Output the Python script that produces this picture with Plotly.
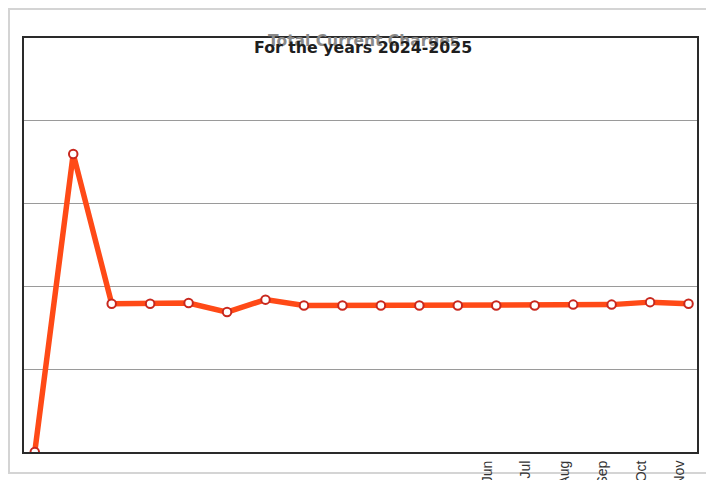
import plotly.graph_objects as go

months = ["Jun 2024", "Jul 2024", "Aug 2024", "Sep 2024", "Oct 2024", "Nov 2024",
          "Dec 2024", "Jan 2025", "Feb 2025", "Mar 2025", "Apr 2025", "May 2025",
          "Jun 2025", "Jul 2025", "Aug 2025", "Sep 2025", "Oct 2025", "Nov 2025"]
charges = [0.0, 3.60, 1.79, 1.79, 1.80, 1.69, 1.84, 1.77, 1.77, 1.77,
           1.77, 1.77, 1.77, 1.77, 1.78, 1.78, 1.81, 1.79]
# only the ends of the last six rotated labels survive in the picture
tick_labels = ["", "", "", "", "", "", "", "", "", "", "", "",
               "Jun", "Jul", "Aug", "Sep", "Oct", "Nov"]
title = "Total Current Charges"
subtitle = "For the years 2024-2025"

fig = go.Figure()
fig.add_trace(go.Scatter(
    x=list(range(len(months))), y=charges, mode="lines+markers",
    line=dict(color="#FF4A17", width=5.5),
    marker=dict(size=8.5, color="white", line=dict(color="#C8281E", width=2)),
    hovertext=months, showlegend=False,
))

fig.update_layout(
    width=714, height=480,
    margin=dict(l=16, r=25, t=30, b=36),
    paper_bgcolor="white", plot_bgcolor="white",
    xaxis=dict(range=[-0.28, 17.22], tickmode="array", automargin=False,
               tickvals=list(range(len(months))), ticktext=tick_labels,
               tickangle=-90, showgrid=False, zeroline=False,
               showline=True, mirror=True, linecolor="#2a2a2a", linewidth=2,
               ticks="", ticklabelshift=-9, ticklabelstandoff=1,
               tickfont=dict(family="Liberation Sans", size=14, color="#333")),
    yaxis=dict(range=[0, 5], dtick=1, showticklabels=False, showgrid=True,
               automargin=False,
               gridcolor="#9a9a9a", gridwidth=1, zeroline=False,
               showline=True, mirror=True, linecolor="#2a2a2a", linewidth=2,
               ticks=""),
    shapes=[dict(type="rect", xref="paper", yref="paper",
                 x0=-0.0223, x1=1.2, y0=-0.0507, y1=1.070,
                 line=dict(color="#d4d4d4", width=2), layer="below")],
    annotations=[
        dict(text="<b>" + title + "</b>", xref="paper", yref="paper",
             x=0.504, y=0.993, yanchor="middle", showarrow=False,
             font=dict(family="DejaVu Sans", size=15.5, color="#8a8a8a")),
        dict(text="<b>" + subtitle + "</b>", xref="paper", yref="paper",
             x=0.503, y=0.976, yanchor="middle", showarrow=False,
             font=dict(family="DejaVu Sans", size=15.8, color="#1e1e1e")),
    ],
)

fig.write_html("out.html")
